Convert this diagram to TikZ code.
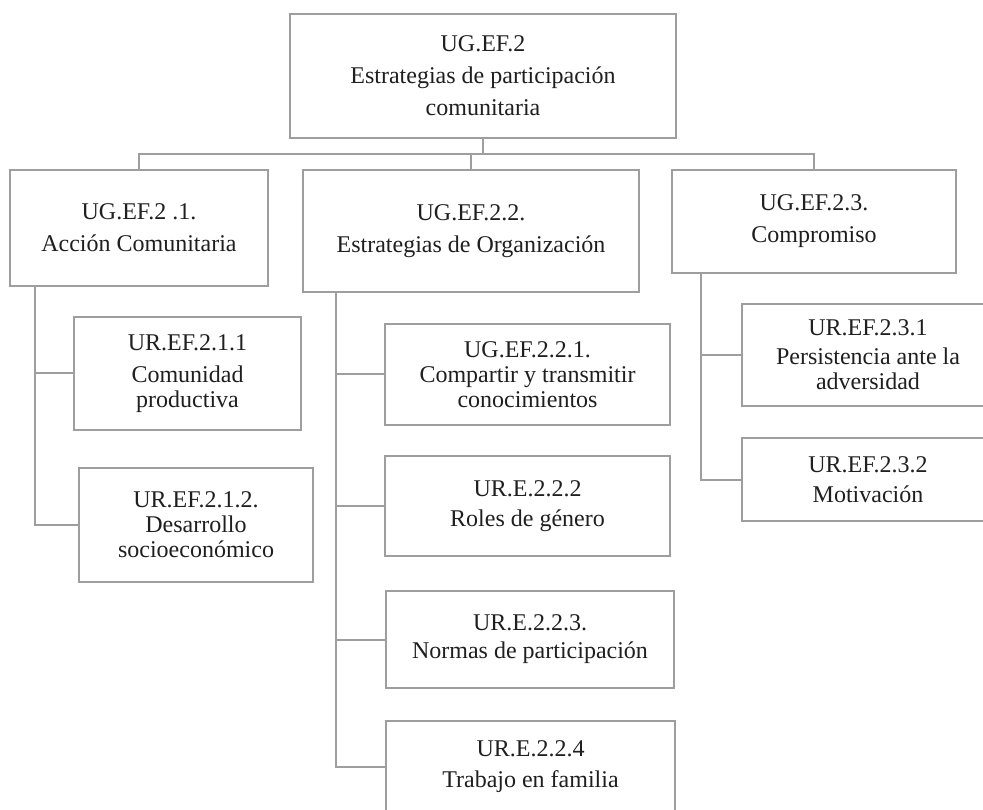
\documentclass[tikz,border=0pt]{standalone}
\usepackage{fontspec}
\setmainfont{Liberation Serif}
\usetikzlibrary{positioning}
\tikzset{
every picture/.style={
line width=2pt
}}
\definecolor{linegray}{RGB}{158,158,158}

\begin{document}
\begin{tikzpicture}[x=1pt, y=-1pt,
box/.style = {rectangle, draw=linegray, line width=2pt, align=center, inner sep=0pt, text=black!88, font=\fontsize{24}{32}\selectfont},
leaf/.style = {box, font=\fontsize{24}{25}\selectfont},
link/.style = {draw=linegray, line width=2pt}]

  \clip (0,0) rectangle (983,810);
  \fill[white] (0,0) rectangle (983,810);

  \node[box, minimum width=386, minimum height=124] (top) at (483,76) {UG.EF.2\\Estrategias de participación\\comunitaria};

  \node[box, minimum width=258, minimum height=116] (a) at (139,228) {UG.EF.2 .1.\\Acción Comunitaria};
  \node[box, minimum width=336, minimum height=122] (b) at (471,231) {UG.EF.2.2.\\Estrategias de Organización};
  \node[box, minimum width=284, minimum height=103] (c) at (814,221.5) {UG.EF.2.3.\\Compromiso};

  \node[leaf, minimum width=227, minimum height=113] (a1) at (187.5,373.5) {UR.EF.2.1.1\\[7pt]Comunidad\\productiva};
  \node[leaf, minimum width=234, minimum height=114] (a2) at (196,525) {UR.EF.2.1.2.\\Desarrollo\\socioeconómico};

  \node[leaf, minimum width=285, minimum height=101] (b1) at (527.5,374.5) {UG.EF.2.2.1.\\Compartir y transmitir\\conocimientos};
  \node[leaf, minimum width=285, minimum height=100] (b2) at (527.5,506) {UR.E.2.2.2\\[5pt]Roles de género};
  \node[leaf, minimum width=288, minimum height=97] (b3) at (530,639.5) {UR.E.2.2.3.\\[3pt]Normas de participación};
  \node[leaf, minimum width=289, minimum height=92] (b4) at (530.5,767) {UR.E.2.2.4\\[6pt]Trabajo en familia};

  \node[leaf, minimum width=252, minimum height=102] (c1) at (868,355) {UR.EF.2.3.1\\[4pt]Persistencia ante la\\adversidad};
  \node[leaf, minimum width=252, minimum height=83] (c2) at (868,479.5) {UR.EF.2.3.2\\[5pt]Motivación};

  \coordinate (bus) at (483,154);
  \draw[link] (top.south) -- (bus);
  \draw[link] (a.north) |- (bus) -| (c.north);
  \draw[link] (b.north) -- (b.north |- bus);

  \foreach \n in {a1,a2}
    \draw[link] ([xshift=26pt]a.south west) |- (\n.west);
  \foreach \n in {b1,b2,b3,b4}
    \draw[link] ([xshift=34pt]b.south west) |- (\n.west);
  \foreach \n in {c1,c2}
    \draw[link] ([xshift=30pt]c.south west) |- (\n.west);

\end{tikzpicture}
\end{document}
